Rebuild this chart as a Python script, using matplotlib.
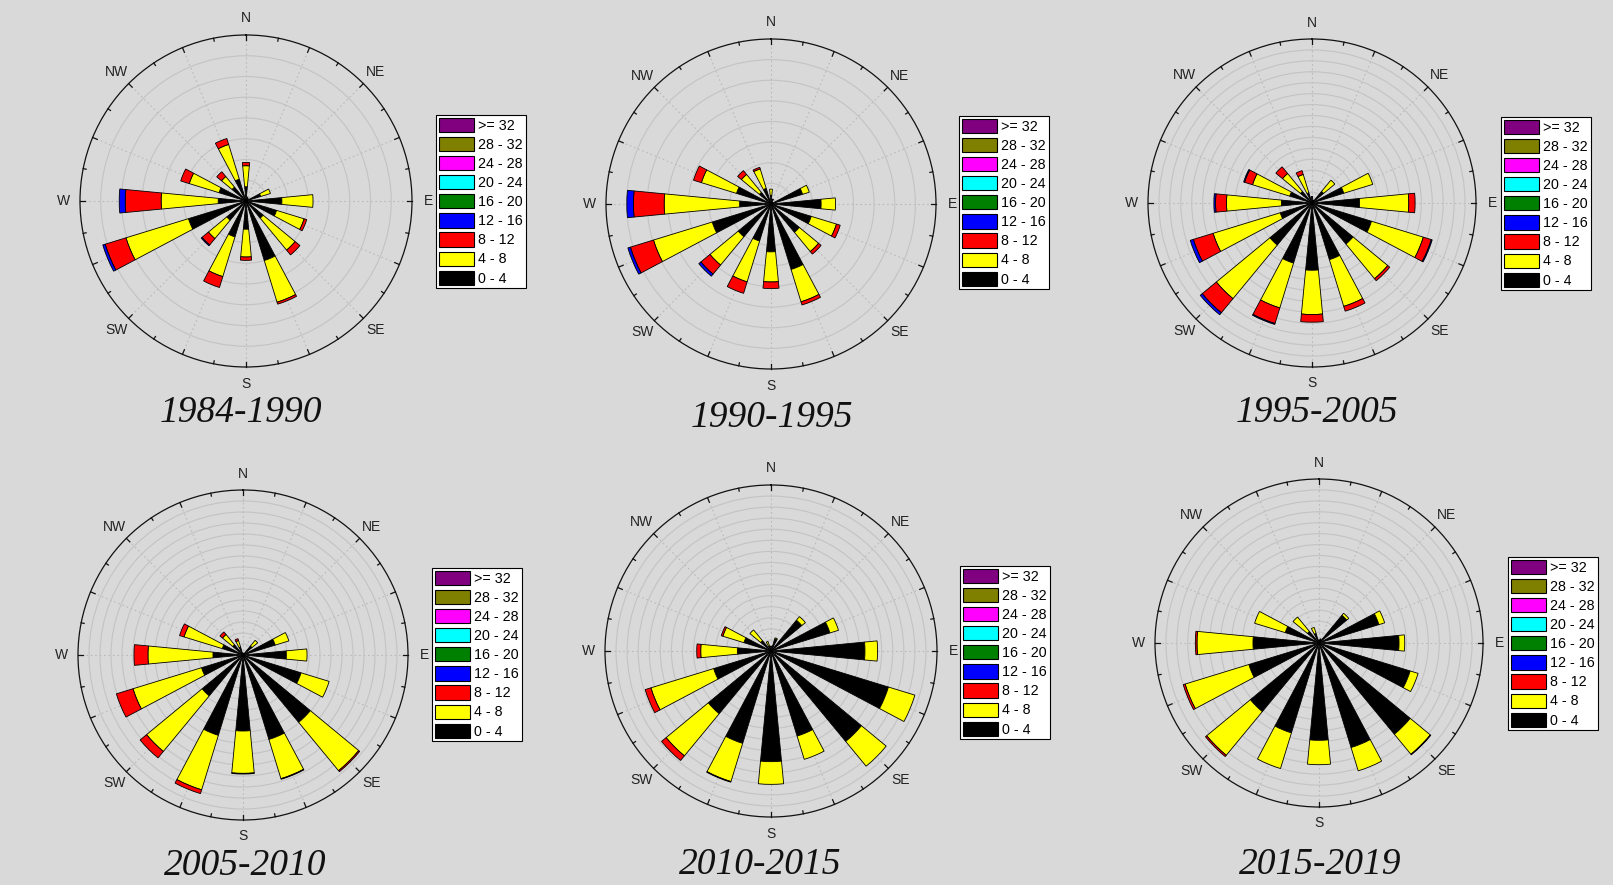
import numpy as np
import matplotlib
matplotlib.use("Agg")
import matplotlib.pyplot as plt
from matplotlib.patches import Patch

W, H, DPI = 1613, 885, 100
BG = "#d9d9d9"

directions = ["N", "NNE", "NE", "ENE", "E", "ESE", "SE", "SSE",
              "S", "SSW", "SW", "WSW", "W", "WNW", "NW", "NNW"]
compass_labels = ["N", "NE", "E", "SE", "S", "SW", "W", "NW"]
speed_bins = ["0 - 4", "4 - 8", "8 - 12", "12 - 16", "16 - 20",
              "20 - 24", "24 - 28", "28 - 32", ">= 32"]
bin_colors = ["#000000", "#ffff00", "#ff0000", "#0000ff", "#008000",
              "#00ffff", "#ff00ff", "#808000", "#800080"]

# Frequency (%) per direction, N clockwise to NNW, for each speed class
p1984_0_4 = [0.69, 0.20, 0.15, 0.74, 1.73, 1.54, 1.07, 3.00, 1.36, 1.81, 1.20, 2.90, 1.34, 1.36, 0.87, 1.10]
p1984_4_8 = [1.01, 0.00, 0.00, 0.49, 1.50, 1.39, 2.00, 2.10, 1.34, 2.00, 1.15, 3.15, 2.75, 1.50, 0.66, 1.75]
p1984_8_12 = [0.16, 0, 0, 0, 0, 0.13, 0.30, 0.10, 0.16, 0.55, 0.40, 1.05, 1.73, 0.43, 0.30, 0.30]
p1984_12_16 = [0, 0, 0, 0, 0, 0, 0, 0, 0, 0, 0.05, 0.12, 0.29, 0, 0, 0]

p1990_0_4 = [0.40, 0.25, 0.10, 1.60, 2.43, 2.04, 1.78, 3.32, 2.32, 1.88, 2.06, 2.98, 1.52, 1.75, 0.73, 0.79]
p1990_4_8 = [0.32, 0, 0, 0.34, 0.70, 1.28, 1.21, 1.64, 1.46, 2.07, 1.78, 2.98, 3.66, 1.78, 1.13, 0.99]
p1990_8_12 = [0, 0, 0, 0, 0, 0.19, 0.16, 0.16, 0.32, 0.58, 0.57, 1.17, 1.49, 0.40, 0.24, 0.08]
p1990_12_16 = [0, 0, 0, 0, 0, 0, 0, 0, 0, 0, 0.13, 0.13, 0.32, 0, 0, 0]

p1995_0_4 = [0.60, 0.30, 1.37, 3.04, 4.35, 5.69, 4.87, 5.42, 6.15, 5.75, 4.99, 3.04, 2.80, 2.13, 1.37, 0.97]
p1995_4_8 = [0, 0, 1.34, 2.77, 4.50, 4.96, 4.11, 4.47, 4.05, 4.29, 6.36, 6.42, 5.02, 3.56, 2.13, 1.76]
p1995_8_12 = [0, 0, 0, 0, 0.58, 0.76, 0.24, 0.46, 0.70, 1.49, 1.67, 1.89, 1.00, 0.76, 0.79, 0.37]
p1995_12_16 = [0, 0, 0, 0, 0, 0.09, 0, 0, 0, 0.09, 0.24, 0.30, 0.15, 0.09, 0, 0]

p2005_0_4 = [0.20, 0.15, 1.06, 3.06, 3.94, 5.52, 7.94, 8.03, 6.91, 7.64, 4.82, 3.94, 2.73, 1.97, 1.21, 0.76]
p2005_4_8 = [0, 0, 0.67, 1.30, 1.88, 2.67, 5.70, 3.73, 3.85, 5.18, 6.55, 6.52, 5.91, 3.64, 1.21, 0.61]
p2005_8_12 = [0, 0, 0, 0, 0, 0, 0.12, 0.06, 0.06, 0.36, 0.76, 1.58, 1.27, 0.42, 0.30, 0.18]
p2005_12_16 = [0] * 16

p2010_0_4 = [0.45, 1.14, 3.61, 5.57, 8.49, 11.10, 10.60, 8.04, 10.00, 8.73, 7.35, 5.42, 3.04, 2.56, 1.20, 0.45]
p2010_4_8 = [0, 0.10, 0.42, 0.81, 1.14, 2.50, 2.90, 2.20, 2.05, 3.61, 4.94, 5.93, 3.31, 1.99, 1.27, 0.45]
p2010_8_12 = [0, 0, 0, 0, 0, 0, 0, 0, 0, 0.06, 0.54, 0.54, 0.36, 0.15, 0, 0]
p2010_12_16 = [0] * 16

p2015_0_4 = [0.30, 0.40, 3.29, 5.73, 7.32, 8.72, 10.82, 10.00, 8.90, 8.60, 8.14, 6.71, 6.04, 3.23, 1.37, 0.91]
p2015_4_8 = [0, 0, 0.24, 0.55, 0.52, 0.76, 2.38, 2.23, 2.23, 3.41, 5.18, 6.10, 5.12, 2.93, 1.71, 0.58]
p2015_8_12 = [0, 0, 0, 0, 0, 0, 0.06, 0, 0, 0, 0.15, 0.18, 0.15, 0, 0, 0]
p2015_12_16 = [0] * 16

periods = ["1984-1990", "1990-1995", "1995-2005", "2005-2010", "2010-2015", "2015-2019"]
period_bins = [
    [p1984_0_4, p1984_4_8, p1984_8_12, p1984_12_16],
    [p1990_0_4, p1990_4_8, p1990_8_12, p1990_12_16],
    [p1995_0_4, p1995_4_8, p1995_8_12, p1995_12_16],
    [p2005_0_4, p2005_4_8, p2005_8_12, p2005_12_16],
    [p2010_0_4, p2010_4_8, p2010_8_12, p2010_12_16],
    [p2015_0_4, p2015_4_8, p2015_8_12, p2015_12_16],
]
ring_count = [8, 8, 15, 15, 15, 15]

# layout in pixels: rose centre, rose radius, legend top-left, title centre
centers = [(246, 201), (771, 204), (1312, 203), (243, 655), (771, 651), (1319, 643)]
radii = [166, 165, 164, 165, 166, 164]
legend_corners = [(436, 115), (959, 116), (1501, 117), (432, 568), (960, 566), (1508, 557)]
title_centers = [(241, 413), (772, 418), (1317, 413), (245, 866), (760, 865), (1320, 865)]

sans = ["Liberation Sans", "DejaVu Sans"]
fig = plt.figure(figsize=(W / DPI, H / DPI), dpi=DPI, facecolor=BG)

theta = np.deg2rad(np.arange(16) * 22.5)
tick_angles = np.deg2rad(np.arange(32) * 11.25)
bar_width = np.deg2rad(10.9)

for k in range(6):
    cx, cy = centers[k]
    R = radii[k]
    ax = fig.add_axes([(cx - R) / W, 1 - (cy + R) / H, 2 * R / W, 2 * R / H],
                      projection="polar")
    ax.set_facecolor(BG)
    ax.set_theta_zero_location("N")
    ax.set_theta_direction(-1)
    rmax = ring_count[k]
    ax.set_ylim(0, rmax)
    ax.set_yticks(np.arange(1, rmax))
    ax.set_yticklabels([])
    ax.tick_params(axis="y", length=0)
    ax.yaxis.grid(True, color="#c3c3c3", linestyle="-", linewidth=0.8)

    ax.set_xticks(theta)
    ax.set_xticklabels([])
    ax.tick_params(axis="x", length=0)
    ax.xaxis.grid(True, color="#bababa", linestyle=(0, (1.5, 2.5)), linewidth=0.8)
    ax.spines["polar"].set_linewidth(0.9)
    ax.spines["polar"].set_color("#111111")
    ax.set_axisbelow(True)

    # compass tick marks on the rim, longer every 22.5 degrees
    for i, t in enumerate(tick_angles):
        tick_px = 5.0 if i % 2 == 0 else 3.0
        ax.plot([t, t], [rmax * (1 - tick_px / R), rmax], color="#111111",
                linewidth=0.9, clip_on=False, zorder=4)

    bottom = np.zeros(16)
    for j, vals in enumerate(period_bins[k]):
        vals = np.asarray(vals, dtype=float)
        mask = vals > 0
        ax.bar(theta[mask], vals[mask], width=bar_width, bottom=bottom[mask],
               color=bin_colors[j], edgecolor="black", linewidth=0.6, zorder=3)
        bottom = bottom + vals
    ax.set_ylim(0, rmax)

    for i, lab in enumerate(compass_labels):
        ax.text(np.deg2rad(i * 45), rmax * 1.1, lab, ha="center", va="center",
                fontsize=10, family=sans, color="#222222", clip_on=False)

    handles = [Patch(facecolor=bin_colors[j], edgecolor="black", linewidth=0.8)
               for j in range(len(speed_bins) - 1, -1, -1)]
    labels = speed_bins[::-1]
    lx, ly = legend_corners[k]
    leg = ax.legend(handles, labels, loc="upper left",
                    bbox_to_anchor=(lx / W, 1 - ly / H), bbox_transform=fig.transFigure,
                    borderaxespad=0, borderpad=0.2, handlelength=2.45, handleheight=1.15,
                    labelspacing=0.29, handletextpad=0.3, fancybox=False, framealpha=1,
                    prop={"family": sans, "size": 10.3})
    leg.get_frame().set_edgecolor("black")
    leg.get_frame().set_linewidth(0.8)
    leg.get_frame().set_facecolor("white")

    tx, ty = title_centers[k]
    fig.text(tx / W, 1 - ty / H, periods[k], ha="center", va="center",
             fontsize=27, family=["Liberation Serif", "DejaVu Serif"], style="italic",
             color="#111111")

fig.savefig("out.png", dpi=DPI, facecolor=BG)
